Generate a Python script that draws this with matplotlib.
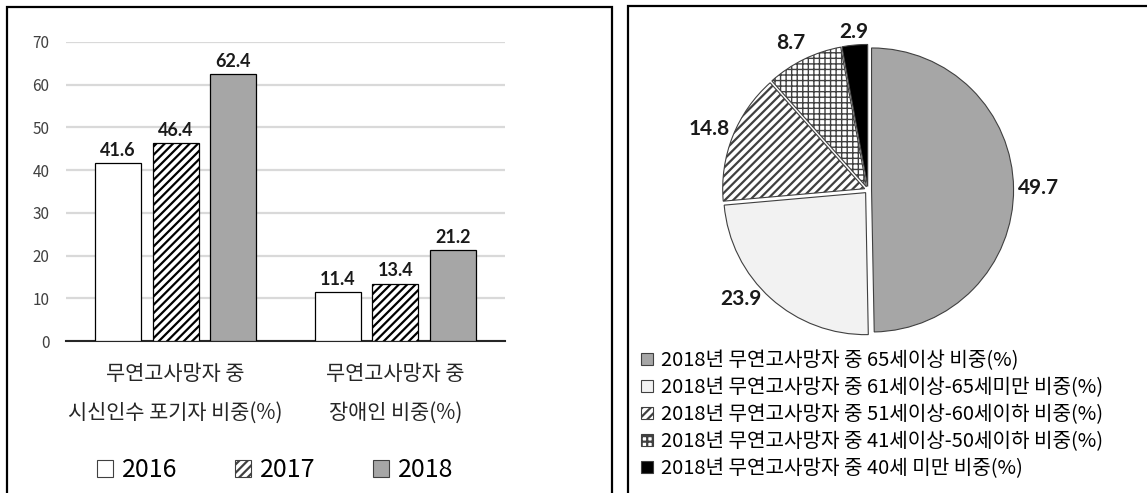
import matplotlib.pyplot as plt
from matplotlib.patches import Patch, Rectangle
import numpy as np

plt.rcParams['font.family'] = ['Noto Sans CJK KR', 'DejaVu Sans']
plt.rcParams['hatch.linewidth'] = 1.6

# 막대그래프 데이터
categories = ["무연고사망자 중\n시신인수 포기자 비중(%)", "무연고사망자 중\n장애인 비중(%)"]
years = ["2016", "2017", "2018"]
values_2016 = [41.6, 11.4]
values_2017 = [46.4, 13.4]
values_2018 = [62.4, 21.2]

# 원그래프 데이터
pie_values = [49.7, 23.9, 14.8, 8.7, 2.9]
pie_labels = [
    "2018년 무연고사망자 중 65세이상 비중(%)",
    "2018년 무연고사망자 중 61세이상-65세미만 비중(%)",
    "2018년 무연고사망자 중 51세이상-60세이하 비중(%)",
    "2018년 무연고사망자 중 41세이상-50세이하 비중(%)",
    "2018년 무연고사망자 중 40세 미만 비중(%)",
]
# 값 라벨 위치: 반지름 배수, 각도 보정(도)
label_dist = [1.20, 1.18, 1.195, 1.17, 1.12]
label_turn = [0, -7.6, 0.7, 1.8, 0]

W, H = 1147, 493
fig = plt.figure(figsize=(W / 100, H / 100), dpi=100)

# 테두리
fig.patches.append(Rectangle((7 / W, -0.05), (612 - 7) / W, 1.05 - 7 / H, transform=fig.transFigure,
                             fill=False, edgecolor='black', linewidth=1.6))
fig.patches.append(Rectangle((628 / W, -0.05), 0.5, 1.05 - 6 / H, transform=fig.transFigure,
                             fill=False, edgecolor='black', linewidth=1.6))

# ---- 막대그래프
ax = fig.add_axes([66 / W, 1 - 341 / H, (505 - 66) / W, (341 - 42) / H])
x = np.arange(len(categories))
bw = 0.21
step = 0.262
styles = [
    dict(facecolor='white', hatch=None),
    dict(facecolor='white', hatch='////'),
    dict(facecolor='#a6a6a6', hatch=None),
]
series = [values_2016, values_2017, values_2018]
for i, (vals, st) in enumerate(zip(series, styles)):
    bars = ax.bar(x + (i - 1) * step, vals, bw, edgecolor='black', linewidth=0.9,
                  label=years[i], zorder=3, **st)
    for b, v in zip(bars, vals):
        ax.text(b.get_x() + b.get_width() / 2, v + 1.0, f"{v:.1f}", ha='center', va='bottom',
                fontsize=13, fontweight='bold', family='Lato', color='#1a1a1a')

ax.set_xlim(-0.5, 1.5)
ax.set_ylim(0, 70)
ax.set_yticks(range(0, 71, 10))
ax.yaxis.grid(True, color='#d9d9d9', linewidth=1.6, zorder=0)
ax.set_axisbelow(True)
for s in ['top', 'right', 'left']:
    ax.spines[s].set_visible(False)
ax.spines['bottom'].set_linewidth(1.5)
ax.spines['bottom'].set_color('#262626')
ax.tick_params(axis='y', length=0, pad=12, labelsize=11, labelcolor='#404040')
ax.tick_params(axis='x', length=0, pad=16, labelsize=15)
ax.set_xticks(x)
ax.set_xticklabels(categories, linespacing=1.95, color='#262626')

handles = [Patch(facecolor=st['facecolor'], hatch=st['hatch'], edgecolor='#404040', linewidth=0.8)
           for st in styles]
fig.legend(handles, years, loc='center', bbox_to_anchor=(275 / W, 1 - 470 / H), ncol=3,
           frameon=False, fontsize=18, handlelength=0.65, handleheight=0.65,
           handletextpad=0.35, columnspacing=2.3)

# ---- 원그래프
R = 142
pax = fig.add_axes([(868 - 150) / W, 1 - (190 + 150) / H, 300 / W, 300 / H])
wedges, _ = pax.pie(pie_values, startangle=90, counterclock=False,
                    explode=[0.025] * 5,
                    colors=['#a6a6a6', '#f2f2f2', 'white', 'white', 'black'],
                    wedgeprops=dict(edgecolor='#404040', linewidth=0.8))
wedges[2].set_hatch('////')
wedges[3].set_hatch('+++')
try:
    wedges[3].set_hatch_linewidth(1.0)
except AttributeError:
    pass
for w, v, d, t in zip(wedges, pie_values, label_dist, label_turn):
    th = np.deg2rad((w.theta1 + w.theta2) / 2 + t)
    pax.text(d * np.cos(th), d * np.sin(th), f"{v:.1f}", ha='center', va='center',
             fontsize=15, fontweight='bold', family='Lato', color='#1a1a1a')
lim = 150 / R
pax.set_xlim(-lim, lim)
pax.set_ylim(-lim, lim)
pax.set_aspect('equal')
pax.axis('off')

fig.legend(wedges, pie_labels, loc='upper left', bbox_to_anchor=(641 / W, 1 - 350 / H),
           frameon=False, fontsize=14.5, handlelength=0.6, handleheight=0.6,
           handletextpad=0.4, labelspacing=0.3, borderpad=0, borderaxespad=0)

fig.savefig('out.png', dpi=100)
